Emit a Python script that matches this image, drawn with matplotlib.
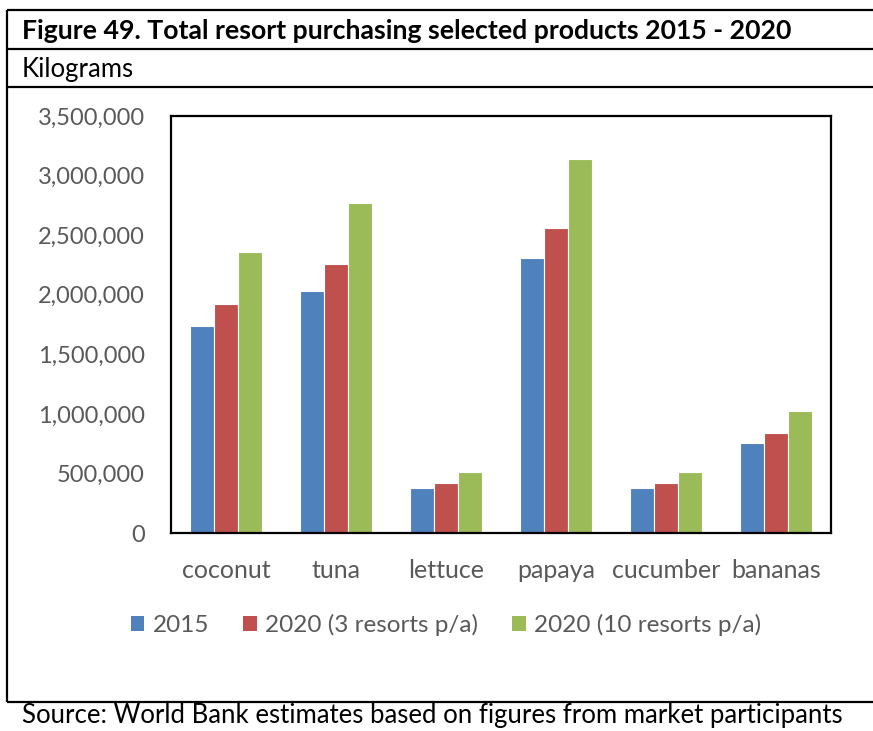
import matplotlib
matplotlib.use("Agg")
import matplotlib.pyplot as plt
import numpy as np
from matplotlib.patches import Patch
from matplotlib.ticker import FuncFormatter

plt.rcParams["font.family"] = ["Lato", "DejaVu Sans"]

GREY = "#595959"
COLORS = ["#4F81BD", "#C0504D", "#9BBB59"]

products = ["coconut", "tuna", "lettuce", "papaya", "cucumber", "bananas"]
series = ["2015", "2020 (3 resorts p/a)", "2020 (10 resorts p/a)"]
y2015 = [1737000, 2031000, 378000, 2311000, 375000, 753000]
y2020_3 = [1922000, 2255000, 420000, 2560000, 417000, 837000]
y2020_10 = [2358000, 2767000, 512000, 3139000, 512000, 1021000]
values = [y2015, y2020_3, y2020_10]

W, H = 873, 731
fig = plt.figure(figsize=(W / 100, H / 100), dpi=100)
fig.patch.set_facecolor("white")

# frame / table lines drawn in pixel coordinates
bg = fig.add_axes([0, 0, 1, 1])
bg.set_xlim(0, W); bg.set_ylim(H, 0); bg.axis("off")
lw = 1.6
for yy in (10, 49, 87, 702):
    bg.plot([7, W], [yy, yy], color="black", lw=lw, solid_capstyle="butt")
bg.plot([7, 7], [10, 702], color="black", lw=lw, solid_capstyle="butt")
bg.text(22, 31, "Figure 49. Total resort purchasing selected products 2015 - 2020",
        fontsize=19.2, fontweight="bold", va="center", ha="left", color="black")
bg.text(22, 69, "Kilograms", fontsize=18.5, va="center", ha="left", color="black")
bg.text(22, 716, "Source: World Bank estimates based on figures from market participants",
        fontsize=18.5, va="center", ha="left", color="black")

# chart
ax = fig.add_axes([171 / W, 1 - 533 / H, 660 / W, 417 / H])
x = np.arange(len(products))
bw = 0.221
for i, (vals, col) in enumerate(zip(values, COLORS)):
    ax.bar(x + (i - 1) * bw, vals, width=bw, color=col, edgecolor="white",
           linewidth=0.8, zorder=2)

ax.set_xlim(-0.5, len(products) - 0.5)
ax.set_ylim(0, 3500000)
ax.set_yticks(np.arange(0, 3500001, 500000))
ax.yaxis.set_major_formatter(FuncFormatter(lambda v, p: f"{int(v):,}"))
ax.set_xticks(x)
ax.set_xticklabels(products)
ax.tick_params(axis="both", length=0, labelcolor=GREY)
ax.tick_params(axis="y", pad=19, labelsize=17)
ax.tick_params(axis="x", pad=19, labelsize=18)
for s in ax.spines.values():
    s.set_linewidth(1.6)
    s.set_color("black")

handles = [Patch(facecolor=c, edgecolor="none") for c in COLORS]
fig.legend(handles, series, loc="center", bbox_to_anchor=(446 / W, 1 - 625 / H),
           ncol=3, frameon=False, fontsize=17.5, handlelength=0.55, handleheight=0.55,
           handletextpad=0.35, columnspacing=1.4, labelcolor=GREY)

fig.savefig("out.png", dpi=100, facecolor="white")
